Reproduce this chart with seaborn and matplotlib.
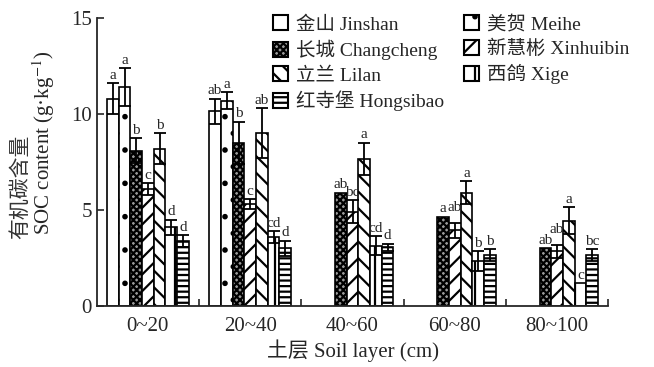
import numpy as np
import pandas as pd
import matplotlib
matplotlib.use("Agg")
import matplotlib.pyplot as plt
import seaborn as sns

# Soil layers and sites
layers = ["0~20", "20~40", "40~60", "60~80", "80~100"]
sites = ["金山 Jinshan", "美贺 Meihe", "长城 Changcheng", "新慧彬 Xinhuibin",
         "立兰 Lilan", "西鸽 Xige", "红寺堡 Hongsibao"]

# SOC means (g/kg)
jinshan = [10.8, 10.15, np.nan, np.nan, np.nan]
meihe = [11.4, 10.7, np.nan, np.nan, np.nan]
changcheng = [8.1, 8.5, 5.9, 4.65, 3.0]
xinhuibin = [6.1, 5.3, 4.9, 3.95, 2.85]
lilan = [8.2, 9.0, 7.65, 5.9, 4.45]
xige = [4.1, 3.6, 3.15, 2.35, 1.2]
hongsibao = [3.4, 3.0, 3.05, 2.65, 2.65]

# error bar half lengths
jinshan_err = [0.8, 0.65, 0, 0, 0]
meihe_err = [1.0, 0.45, 0, 0, 0]
changcheng_err = [0.65, 1.1, 0, 0, 0]
xinhuibin_err = [0.3, 0.25, 0.6, 0.4, 0.35]
lilan_err = [0.8, 1.3, 0.85, 0.6, 0.7]
xige_err = [0.4, 0.3, 0.5, 0.5, 0]
hongsibao_err = [0.3, 0.4, 0.2, 0.3, 0.3]

# significance letters
jinshan_sig = ["a", "ab", "", "", ""]
meihe_sig = ["a", "a", "", "", ""]
changcheng_sig = ["b", "b", "ab", "a", "ab"]
xinhuibin_sig = ["c", "c", "bc", "ab", "ab"]
lilan_sig = ["b", "ab", "a", "a", "a"]
xige_sig = ["d", "cd", "cd", "b", "c"]
hongsibao_sig = ["d", "d", "d", "b", "bc"]

values = [jinshan, meihe, changcheng, xinhuibin, lilan, xige, hongsibao]
errors = [jinshan_err, meihe_err, changcheng_err, xinhuibin_err, lilan_err, xige_err, hongsibao_err]
letters = [jinshan_sig, meihe_sig, changcheng_sig, xinhuibin_sig, lilan_sig, xige_sig, hongsibao_sig]

rows = []
for s, vals in zip(sites, values):
    for l, v in zip(layers, vals):
        rows.append({"layer": l, "site": s, "soc": v})
df = pd.DataFrame(rows).dropna()

sns.set_style("ticks")
plt.rcParams["font.family"] = ["Liberation Serif", "Noto Sans CJK SC"]
plt.rcParams["mathtext.fontset"] = "stix"
plt.rcParams["hatch.linewidth"] = 1.6

fig, ax = plt.subplots(figsize=(6.54, 3.67), dpi=100)
fig.subplots_adjust(left=0.148, right=0.93, bottom=0.166, top=0.951)

sns.barplot(data=df, x="layer", y="soc", hue="site", order=layers, hue_order=sites,
            errorbar=None, width=0.8, edgecolor="black", linewidth=1.2,
            palette=["white"] * 7, ax=ax, legend=False)

hatches = ["", ".", "xxxxx", "//", "\\\\", "|", "---"]
faces = ["white", "white", "#9a9a9a", "white", "white", "white", "white"]

bar_conts = list(ax.containers)
for i, cont in enumerate(bar_conts):
    for bar in cont:
        if bar is None:
            continue
        bar.set_hatch(hatches[i])
        bar.set_facecolor(faces[i])
        bar.set_edgecolor("black")
        xc = bar.get_x() + bar.get_width() / 2
        j = int(round(xc))
        h = bar.get_height()
        e = errors[i][j]
        top = h
        if e > 0:
            ax.errorbar(xc, h, yerr=e, fmt="none", ecolor="black",
                        elinewidth=1.3, capsize=4.5, capthick=1.3)
            top = h + e
        # Xinhuibin letters sit a little higher in the original, clear of neighbours
        dy = 6 if i == 3 and j >= 3 else 1
        ax.annotate(letters[i][j], (xc, top), xytext=(0, dy), textcoords="offset points",
                    ha="center", va="bottom", fontsize=11)

ax.set_ylim(0, 15)
ax.set_xlim(-0.5, 4.5)
ax.set_yticks([0, 5, 10, 15])
ax.tick_params(axis="y", direction="in", length=5, width=1.2, labelsize=15)
ax.tick_params(axis="x", which="major", length=0, labelsize=15, pad=8)
ax.set_xticks([0.5, 1.5, 2.5, 3.5, 4.5], minor=True)
ax.tick_params(axis="x", which="minor", direction="in", length=5, width=1.2)
sns.despine(ax=ax)
for sp in ["left", "bottom"]:
    ax.spines[sp].set_linewidth(1.3)

ax.set_xlabel("土层 Soil layer (cm)", fontsize=15, labelpad=2)
ax.set_ylabel("")
fig.text(0.032, 0.49, "有机碳含量", rotation=90, ha="center", va="center", fontsize=15, color="#333333")
fig.text(0.066, 0.61, "SOC content (g·kg$^{-1}$)", rotation=90, ha="center", va="center", fontsize=15)

# legend: two columns, first column Jinshan/Changcheng/Lilan/Hongsibao
leg_order = [0, 2, 4, 6, 1, 3, 5]
handles = [plt.Rectangle((0, 0), 1, 1, facecolor=faces[k], edgecolor="black",
                         hatch=hatches[k], linewidth=1.5) for k in leg_order]
ax.legend(handles, [sites[k] for k in leg_order], ncol=2, loc="upper left",
          bbox_to_anchor=(0.31, 1.07), frameon=False, fontsize=14,
          handlelength=0.8, handleheight=0.8, handletextpad=0.4,
          labelspacing=0.32, columnspacing=1.0)

plt.savefig("out.png", dpi=100)
